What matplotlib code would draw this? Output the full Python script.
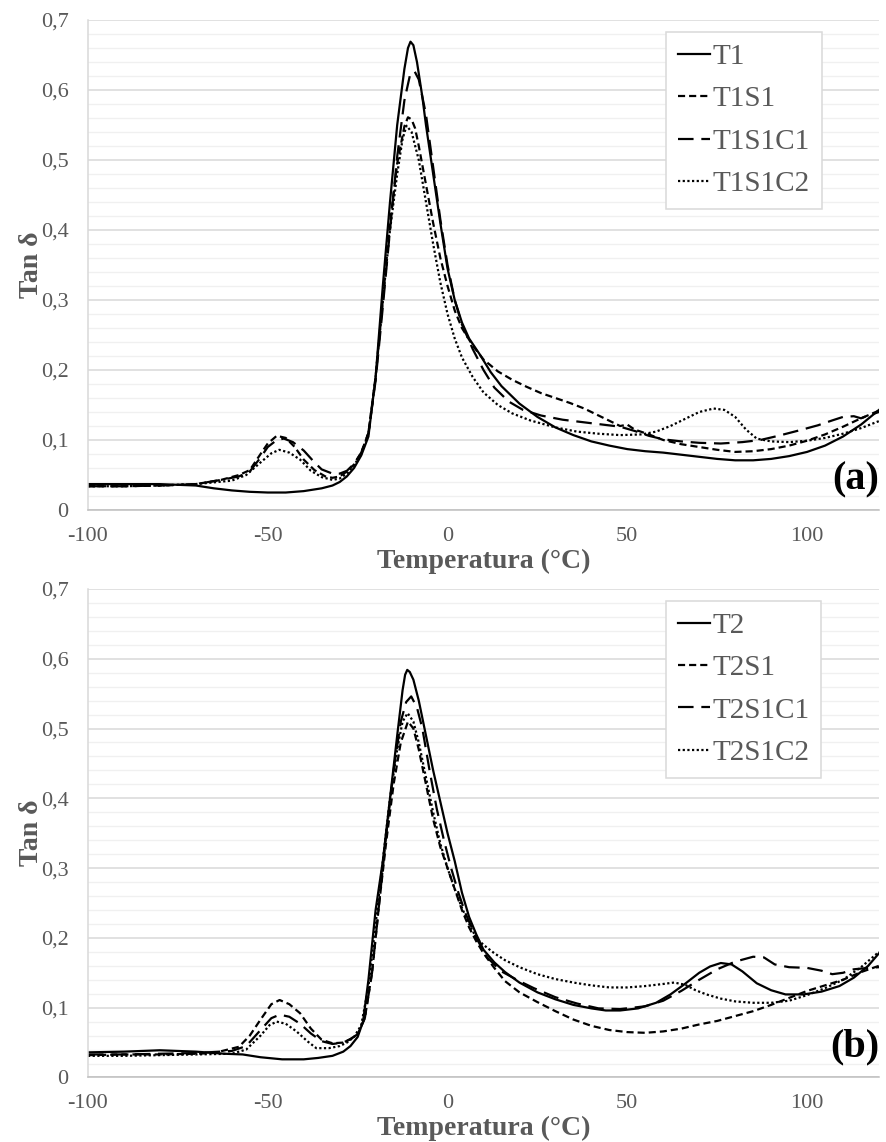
import matplotlib
matplotlib.use("Agg")
import matplotlib.pyplot as plt

plt.rcParams['font.family'] = ['Liberation Serif', 'DejaVu Serif']
plt.rcParams['axes.unicode_minus'] = False

# ---- (a) T1 series ----
t1_x = [-100, -90, -80, -70, -65, -60, -55, -50, -45, -40, -35, -32, -30, -28, -26, -24, -22, -20, -18, -16, -14, -12,
        -11, -10.3, -9.5, -8.5, -7, -6, -4, -2, 0, 2, 4, 6, 9, 12, 15, 20, 25, 30, 35, 40, 45, 50, 55, 60, 65, 70, 75,
        80, 85, 90, 95, 100, 105, 110, 115, 120]
t1_y = [0.037, 0.037, 0.037, 0.035, 0.031, 0.028, 0.026, 0.025, 0.025, 0.027, 0.031, 0.035, 0.040, 0.048, 0.060, 0.078,
        0.105, 0.190, 0.320, 0.440, 0.550, 0.630, 0.660, 0.669, 0.664, 0.640, 0.590, 0.550, 0.480, 0.410, 0.345, 0.300,
        0.268, 0.245, 0.222, 0.197, 0.177, 0.152, 0.133, 0.118, 0.107, 0.098, 0.092, 0.087, 0.084, 0.082, 0.079,
        0.076, 0.073, 0.071, 0.071, 0.073, 0.077, 0.083, 0.092, 0.105, 0.122, 0.143]

t1s1_x = [-100, -90, -80, -70, -63, -58, -55, -52, -50, -47.5, -45, -42.5, -40, -37, -34, -32, -30, -28, -26, -24, -22,
          -20, -18, -16, -14, -12, -11, -10, -9, -8, -6, -4, -2, 0, 2, 4, 7, 10, 14, 18, 22, 26, 30, 34, 38, 42, 46,
          48, 50, 52, 56, 60, 65, 70, 75, 80, 85, 90, 95, 100, 105, 110, 115, 120]
t1s1_y = [0.034, 0.034, 0.035, 0.037, 0.043, 0.050, 0.057, 0.080, 0.095, 0.106, 0.103, 0.090, 0.072, 0.057, 0.048,
          0.046, 0.048, 0.055, 0.065, 0.082, 0.110, 0.190, 0.300, 0.410, 0.495, 0.548, 0.561, 0.558, 0.545, 0.520,
          0.465, 0.410, 0.360, 0.320, 0.285, 0.260, 0.235, 0.215, 0.198, 0.186, 0.176, 0.167, 0.160, 0.153, 0.145,
          0.135, 0.125, 0.120, 0.122, 0.115, 0.108, 0.100, 0.094, 0.090, 0.086, 0.083, 0.084, 0.087, 0.092, 0.099,
          0.108, 0.119, 0.131, 0.142]

t1s1c1_x = [-100, -90, -80, -70, -63, -58, -55, -52, -50, -47.5, -45.5, -43, -40, -37, -35, -32, -30, -28, -26, -24,
            -22, -20, -18, -16, -14, -12, -10.5, -9.2, -8, -6, -4, -2, 0, 2, 4, 7, 10, 13, 17, 21, 26, 32, 40, 48, 52,
            56, 60, 65, 70, 76, 82, 87, 92, 98, 103, 107, 110, 113, 115, 117, 120]
t1s1c1_y = [0.034, 0.034, 0.035, 0.037, 0.043, 0.048, 0.055, 0.075, 0.090, 0.100, 0.102, 0.097, 0.085, 0.068, 0.058,
            0.052, 0.052, 0.056, 0.066, 0.082, 0.110, 0.185, 0.290, 0.400, 0.505, 0.585, 0.620, 0.627, 0.615, 0.565,
            0.490, 0.415, 0.350, 0.300, 0.265, 0.230, 0.200, 0.175, 0.155, 0.143, 0.135, 0.129, 0.124, 0.119, 0.113,
            0.106, 0.101, 0.098, 0.096, 0.095, 0.097, 0.100, 0.106, 0.114, 0.121, 0.128, 0.133, 0.134, 0.131, 0.135,
            0.140]

t1s1c2_x = [-100, -90, -80, -70, -60, -56, -52, -49, -46.8, -44, -41, -38, -35, -32, -30, -28, -26, -24, -22, -20, -18,
            -16, -14, -12.5, -11.4, -10, -8, -6, -4, -2, 0, 2, 4, 7, 10, 14, 18, 23, 30, 36, 42, 48, 54, 58, 62, 66, 70,
            74, 77, 80, 83, 86, 90, 95, 100, 105, 110, 115, 120]
t1s1c2_y = [0.034, 0.034, 0.035, 0.037, 0.042, 0.050, 0.068, 0.081, 0.086, 0.082, 0.072, 0.056, 0.047, 0.043, 0.045,
            0.052, 0.064, 0.080, 0.110, 0.190, 0.300, 0.400, 0.480, 0.530, 0.549, 0.540, 0.500, 0.440, 0.380, 0.325,
            0.280, 0.245, 0.218, 0.190, 0.168, 0.150, 0.138, 0.128, 0.118, 0.112, 0.109, 0.107, 0.108, 0.112, 0.120,
            0.130, 0.140, 0.145, 0.143, 0.133, 0.115, 0.102, 0.098, 0.097, 0.099, 0.103, 0.109, 0.117, 0.127]

# ---- (b) T2 series ----
t2_x = [-100, -90, -80, -70, -62, -57, -52, -46, -40, -36, -32, -29, -27, -25, -23.5, -22, -20, -18, -16, -14, -12.5,
        -11.8, -11.2, -10.5, -9.5, -8, -6, -4, -2, 0, 2, 4, 6, 8, 10, 13, 16, 20, 25, 30, 35, 40, 44, 48, 53, 58, 62,
        66, 70, 73, 76, 79, 82, 86, 90, 94, 99, 104, 109, 113, 117, 120]
t2_y = [0.036, 0.037, 0.039, 0.037, 0.034, 0.033, 0.029, 0.026, 0.026, 0.028, 0.031, 0.037, 0.045, 0.058, 0.080, 0.140,
        0.240, 0.310, 0.400, 0.490, 0.555, 0.577, 0.584, 0.581, 0.570, 0.540, 0.490, 0.440, 0.395, 0.350, 0.310,
        0.265, 0.230, 0.205, 0.183, 0.165, 0.151, 0.136, 0.122, 0.112, 0.104, 0.099, 0.096, 0.096, 0.099, 0.107,
        0.119, 0.134, 0.150, 0.159, 0.164, 0.162, 0.152, 0.135, 0.125, 0.119, 0.119, 0.123, 0.131, 0.143, 0.160,
        0.178]

t2s1_x = [-100, -90, -80, -70, -65, -58, -55, -52, -49, -46.7, -44, -41, -38, -35, -32, -29, -27, -25, -23, -21, -19,
          -17, -15, -13, -11, -9.5, -8, -6, -4, -2, 0, 2, 4, 6, 8, 10, 13, 16, 20, 25, 30, 35, 40, 45, 50, 55, 60, 65,
          70, 75, 80, 85, 90, 95, 100, 105, 110, 115, 120]
t2s1_y = [0.032, 0.033, 0.033, 0.034, 0.035, 0.044, 0.060, 0.083, 0.105, 0.111, 0.105, 0.092, 0.070, 0.054, 0.049,
          0.050, 0.055, 0.062, 0.085, 0.150, 0.250, 0.340, 0.420, 0.480, 0.510, 0.500, 0.470, 0.420, 0.370, 0.330,
          0.300, 0.270, 0.240, 0.215, 0.195, 0.178, 0.157, 0.138, 0.122, 0.108, 0.095, 0.083, 0.074, 0.068, 0.065,
          0.064, 0.066, 0.070, 0.076, 0.081, 0.088, 0.095, 0.104, 0.114, 0.124, 0.132, 0.140, 0.151, 0.160]

t2s1c1_x = [-100, -90, -80, -70, -60, -56, -52, -49, -46.7, -44, -41, -38, -35, -32, -29, -27, -25, -23, -21, -19, -17,
            -15, -13, -11.5, -10.1, -8.5, -7, -5, -3, -1, 1, 3, 5, 8, 11, 15, 20, 24, 30, 36, 42, 48, 55, 60, 65, 70,
            75, 80, 85, 88, 91, 95, 100, 104, 107, 110, 113, 117, 120]
t2s1c1_y = [0.033, 0.033, 0.034, 0.035, 0.038, 0.045, 0.068, 0.085, 0.090, 0.087, 0.077, 0.063, 0.052, 0.048, 0.050,
            0.055, 0.062, 0.085, 0.150, 0.250, 0.350, 0.440, 0.510, 0.538, 0.546, 0.530, 0.500, 0.440, 0.385, 0.340,
            0.300, 0.265, 0.235, 0.200, 0.172, 0.152, 0.138, 0.128, 0.115, 0.106, 0.099, 0.098, 0.102, 0.110, 0.124,
            0.140, 0.155, 0.166, 0.173, 0.172, 0.162, 0.158, 0.157, 0.153, 0.148, 0.150, 0.155, 0.157, 0.158]

t2s1c2_x = [-100, -90, -80, -70, -60, -56, -52, -49.5, -47.5, -45, -42, -39, -36.5, -33, -30, -28, -26, -24, -22, -20,
            -18, -16, -14, -12.5, -11.1, -9.5, -8, -6, -4, -2, 0, 2, 4, 6, 8, 10, 13, 16, 20, 25, 30, 35, 40, 45, 50,
            55, 60, 63, 66, 69, 72, 76, 80, 85, 90, 95, 100, 105, 110, 115, 120]
t2s1c2_y = [0.031, 0.031, 0.032, 0.033, 0.034, 0.040, 0.060, 0.075, 0.080, 0.077, 0.066, 0.052, 0.042, 0.042, 0.045,
            0.050, 0.058, 0.075, 0.130, 0.220, 0.310, 0.400, 0.470, 0.510, 0.522, 0.510, 0.480, 0.430, 0.380, 0.335,
            0.300, 0.270, 0.243, 0.220, 0.200, 0.190, 0.178, 0.168, 0.158, 0.148, 0.141, 0.136, 0.132, 0.129, 0.129,
            0.131, 0.134, 0.136, 0.133, 0.125, 0.119, 0.113, 0.109, 0.107, 0.107, 0.110, 0.118, 0.128, 0.140, 0.158,
            0.180]

ticks_y = [0, 0.1, 0.2, 0.3, 0.4, 0.5, 0.6, 0.7]
ticks_y_lbl = ['0', '0,1', '0,2', '0,3', '0,4', '0,5', '0,6', '0,7']
ticks_x = [-100, -50, 0, 50, 100]

gray = '#595959'
styles = ['-', (0, (3.2, 1.8)), (0, (7, 3.5)), (0, (1, 1.1))]

fig = plt.figure(figsize=(8.86, 11.42), dpi=100)
ax1 = fig.add_axes([0.0993, 0.5534, 0.8928, 0.4291])
ax2 = fig.add_axes([0.0993, 0.0565, 0.8928, 0.4278])

panels = [
    (ax1, [(t1_x, t1_y, 'T1'), (t1s1_x, t1s1_y, 'T1S1'), (t1s1c1_x, t1s1c1_y, 'T1S1C1'), (t1s1c2_x, t1s1c2_y, 'T1S1C2')], '(a)'),
    (ax2, [(t2_x, t2_y, 'T2'), (t2s1_x, t2s1_y, 'T2S1'), (t2s1c1_x, t2s1c1_y, 'T2S1C1'), (t2s1c2_x, t2s1c2_y, 'T2S1C2')], '(b)'),
]

for ax, series, tag in panels:
    for (xs, ys, name), ls in zip(series, styles):
        ax.plot(xs, ys, color='black', lw=1.6, linestyle=ls, label=name)
    ax.set_xlim(-100, 120)
    ax.set_ylim(0, 0.7)
    ax.set_xticks(ticks_x)
    ax.set_yticks(ticks_y)
    ax.set_yticklabels(ticks_y_lbl)
    ax.set_yticks([i * 0.02 for i in range(36)], minor=True)
    ax.grid(axis='y', which='minor', color='#f0f0f0', lw=1)
    ax.grid(axis='y', which='major', color='#d9d9d9', lw=1.1)
    ax.set_axisbelow(True)
    ax.tick_params(which='both', length=0)
    ax.tick_params(axis='y', pad=14, labelsize=16, labelcolor=gray)
    ax.tick_params(axis='x', pad=12, labelsize=16, labelcolor=gray)
    for s in ['top', 'right']:
        ax.spines[s].set_visible(False)
    ax.spines['left'].set_color('#d9d9d9')
    ax.spines['bottom'].set_color('#bfbfbf')
    ax.spines['left'].set_linewidth(1.1)
    ax.spines['bottom'].set_linewidth(1.1)
    ax.set_xlabel('Temperatura (°C)', fontsize=20, fontweight='bold', color=gray, va='center')
    ax.xaxis.set_label_coords(0.5, -0.105)
    ax.set_ylabel('Tan δ', fontsize=20, fontweight='bold', color=gray, va='center')
    ax.yaxis.set_label_coords(-0.072, 0.5)
    ax.text(1.0, 0.062, tag, transform=ax.transAxes, ha='right', va='center',
            fontsize=29, fontweight='bold', color='black')
    leg = ax.legend(loc='upper left', bbox_to_anchor=(0.7307, 0.976), borderaxespad=0, fontsize=21,
                    frameon=True, fancybox=False, framealpha=1, edgecolor='#d9d9d9', handlelength=1.1,
                    handletextpad=0.1, labelspacing=0.55, borderpad=0.4)
    leg.get_frame().set_linewidth(1.1)
    for t in leg.get_texts():
        t.set_color(gray)

fig.savefig('out.png', dpi=100)
